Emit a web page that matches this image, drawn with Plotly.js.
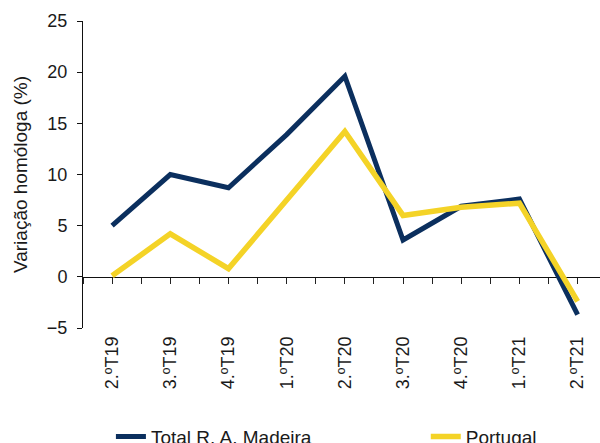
<!DOCTYPE html>
<html>
<head>
<meta charset="utf-8">
<script src="https://cdn.plot.ly/plotly-3.0.1.min.js"></script>
<style>
html,body{margin:0;padding:0;background:#fff;}
#chart{width:600px;height:443px;}
</style>
</head>
<body>
<div id="chart"></div>
<script>
var categories = ["2.ºT19","3.ºT19","4.ºT19","1.ºT20","2.ºT20","3.ºT20","4.ºT20","1.ºT21","2.ºT21"];
var madeira = [5.0, 10.0, 8.7, 13.9, 19.6, 3.6, 6.9, 7.6, -3.7];
var portugal = [0.1, 4.2, 0.8, 7.6, 14.2, 6.0, 6.8, 7.2, -2.4];
var yTicks = [-5, 0, 5, 10, 15, 20, 25];

var idx = categories.map(function(_, i){ return i; });
var halfTicks = [];
for (var k = -1; k <= 2 * categories.length; k++) halfTicks.push(k / 2);

var FONT = "Liberation Sans, Arial, sans-serif";
var xRange = [-0.5, categories.length - 0.615];

var traces = [
  {x: idx, y: madeira, type: "scatter", mode: "lines", name: "Total R. A. Madeira",
   line: {color: "#0B2F5E", width: 5}, hoverinfo: "skip", legend: "legend"},
  {x: idx, y: portugal, type: "scatter", mode: "lines", name: "Portugal",
   line: {color: "#F4D327", width: 5.5}, hoverinfo: "skip", legend: "legend2"},
  {x: [null], y: [null], xaxis: "x2", yaxis: "y", showlegend: false, hoverinfo: "skip"}
];

var legendBase = {orientation: "h", xanchor: "left", y: -0.292, yanchor: "top",
  font: {family: FONT, size: 19, color: "#1a1a1a"}, bgcolor: "rgba(0,0,0,0)", itemwidth: 30};

var layout = {
  width: 600, height: 443,
  margin: {l: 83, r: 0, t: 21, b: 115, autoexpand: false},
  paper_bgcolor: "#fff", plot_bgcolor: "#fff",
  font: {family: FONT, size: 17, color: "#1a1a1a"},
  showlegend: true,
  legend: Object.assign({}, legendBase, {x: 0.054}),
  legend2: Object.assign({}, legendBase, {x: 0.663}),
  xaxis: {range: xRange, tickmode: "array", tickvals: idx, ticktext: categories,
          tickangle: -90, ticks: "", showline: false, showgrid: false, zeroline: false,
          automargin: false, ticklabelstandoff: 4,
          tickfont: {family: FONT, size: 18, color: "#1a1a1a"}, fixedrange: true},
  xaxis2: {overlaying: "x", anchor: "free", position: 5/30, side: "bottom",
           range: xRange, tickmode: "array", tickvals: halfTicks, showticklabels: false,
           ticks: "outside", ticklen: 6, tickwidth: 1, tickcolor: "#222",
           showline: true, linecolor: "#111", linewidth: 1, automargin: false,
           showgrid: false, zeroline: false, layer: "below traces", fixedrange: true},
  yaxis: {range: [-5, 25], tickmode: "array", tickvals: yTicks,
          ticks: "outside", ticklen: 5, tickwidth: 1, tickcolor: "#111",
          showline: true, linecolor: "#111", linewidth: 1, automargin: false,
          showgrid: false, zeroline: false, layer: "below traces", ticklabelstandoff: 6,
          tickfont: {family: FONT, size: 18, color: "#1a1a1a"},
          title: {text: "Variação homóloga (%)", font: {family: FONT, size: 19, color: "#1a1a1a"}, standoff: 14},
          fixedrange: true}
};

Plotly.newPlot("chart", traces, layout, {staticPlot: true, displayModeBar: false});
</script>
</body>
</html>
